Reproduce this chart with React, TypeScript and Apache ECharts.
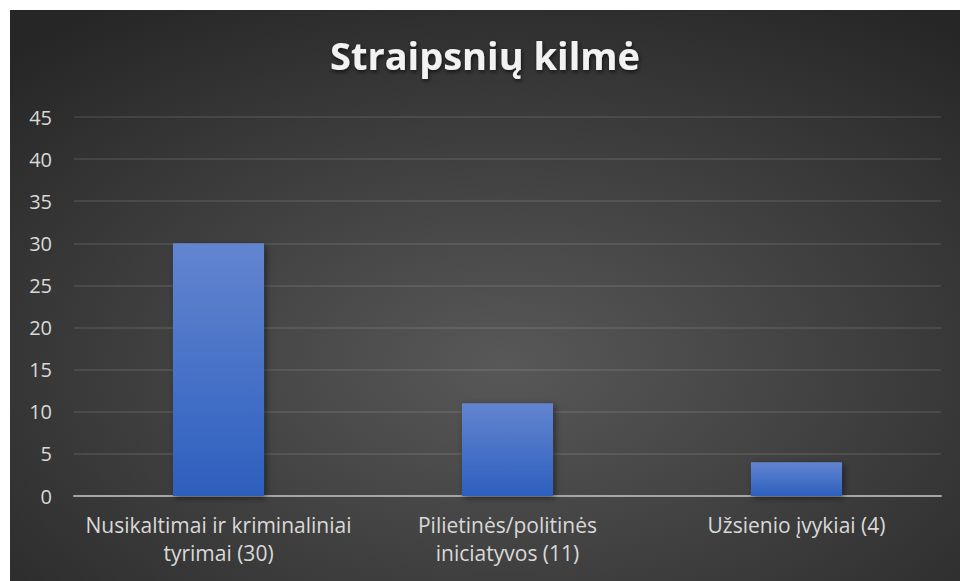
import React, { useEffect, useRef } from "react";
import * as echarts from "echarts";

const titleText = "Straipsnių kilmė";
const categories = [
  "Nusikaltimai ir kriminaliniai\ntyrimai (30)",
  "Pilietinės/politinės\niniciatyvos (11)",
  "Užsienio įvykiai (4)",
];
const values = [30, 11, 4];
const yMin = 0;
const yMax = 45;
const yInterval = 5;

export default function App() {
  const ref = useRef<HTMLDivElement>(null);
  useEffect(() => {
    if (!ref.current) return;
    const chart = echarts.init(ref.current, null, { renderer: "svg" });
    chart.setOption({
      animation: false,
      backgroundColor: {
        type: "radial",
        x: 0.52,
        y: 0.62,
        r: 0.75,
        colorStops: [
          { offset: 0, color: "#585858" },
          { offset: 1, color: "#262626" },
        ],
      },
      title: {
        text: titleText,
        left: "center",
        top: 21,
        textStyle: {
          fontFamily: "Open Sans",
          fontWeight: "bold",
          fontSize: 38,
          color: "#f2f2f2",
          textShadowColor: "rgba(0,0,0,0.65)",
          textShadowBlur: 4,
          textShadowOffsetX: 1,
          textShadowOffsetY: 2,
        },
      },
      grid: { left: 64, right: 19, top: 107, bottom: 85, containLabel: false },
      xAxis: {
        type: "category",
        data: categories,
        axisLine: { lineStyle: { color: "#a6a6a6", width: 2 } },
        axisTick: { show: false },
        axisLabel: {
          color: "#d9d9d9",
          fontFamily: "Open Sans",
          fontSize: 21,
          lineHeight: 28,
          margin: 15,
          interval: 0,
        },
      },
      yAxis: {
        type: "value",
        min: yMin,
        max: yMax,
        interval: yInterval,
        axisLine: { show: false },
        axisTick: { show: false },
        splitLine: { lineStyle: { color: "rgba(255,255,255,0.12)", width: 1.5 } },
        axisLabel: {
          color: "#d9d9d9",
          fontFamily: "Open Sans",
          fontSize: 20,
          margin: 22,
        },
      },
      series: [
        {
          type: "bar",
          data: values,
          barWidth: "31.5%",
          itemStyle: {
            color: {
              type: "linear",
              x: 0,
              y: 0,
              x2: 0,
              y2: 1,
              colorStops: [
                { offset: 0, color: "#6385d0" },
                { offset: 1, color: "#2d5fbe" },
              ],
            },
            shadowColor: "rgba(0,0,0,0.5)",
            shadowBlur: 6,
            shadowOffsetX: 2,
            shadowOffsetY: 2,
          },
        },
      ],
    });
    return () => chart.dispose();
  }, []);
  return (
    <div
      ref={ref}
      style={{ position: "absolute", left: 10, top: 10, width: 950, height: 571 }}
    />
  );
}
